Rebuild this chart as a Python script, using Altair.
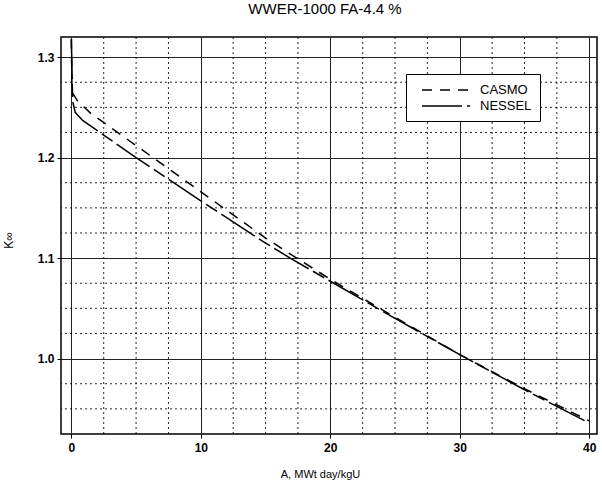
import altair as alt
import pandas as pd

# ---- data ----
casmo_x = [0, 0.05, 0.5, 1.5, 5, 10, 15, 17.4, 20, 25, 30, 35, 40]
casmo_y = [1.318, 1.265, 1.256, 1.244, 1.212, 1.166, 1.120, 1.100, 1.079, 1.041, 1.004, 0.970, 0.938]

nessel_x = [0, 0.1, 0.3, 0.87, 5, 10, 15, 16.9, 20, 25, 30, 35, 40]
nessel_y = [1.318, 1.256, 1.245, 1.237, 1.200, 1.157, 1.115, 1.100, 1.077, 1.040, 1.004, 0.969, 0.936]

series_names = ["CASMO", "NESSEL"]

x_major = [0, 10, 20, 30, 40]
x_minor = [2.5, 5, 7.5, 12.5, 15, 17.5, 22.5, 25, 27.5, 32.5, 35, 37.5]
y_major = [1.0, 1.1, 1.2, 1.3]
y_minor = [0.95, 0.975, 1.025, 1.05, 1.075, 1.125, 1.15, 1.175,
           1.225, 1.25, 1.275]

FONT = "Liberation Sans"

df = pd.concat([
    pd.DataFrame({"A": casmo_x, "K": casmo_y, "series": series_names[0]}),
    pd.DataFrame({"A": nessel_x, "K": nessel_y, "series": series_names[1]}),
])

xscale = alt.Scale(domain=[-0.8, 40.6], nice=False, zero=False)
yscale = alt.Scale(domain=[0.925, 1.32], nice=False, zero=False)

xaxis = alt.Axis(values=x_major, grid=True, gridColor="#222", gridWidth=1,
                 title="A, MWt day/kgU", titleFont=FONT, titleFontSize=11,
                 titleFontWeight="normal", titleColor="black",
                 titleX=259, titleY=43, titleAnchor="middle", titleBaseline="alphabetic",
                 labelFont=FONT, labelFontSize=12, labelFontWeight="bold",
                 labelColor="black", labelPadding=4,
                 ticks=True, tickSize=4, tickColor="black",
                 domain=False, format="d")
yaxis = alt.Axis(values=y_major, grid=True, gridColor="#222", gridWidth=1,
                 title="K∞", titleFont=FONT, titleFontSize=12,
                 titleFontWeight="normal", titleColor="black",
                 titleX=-46, titleY=203,
                 labelFont=FONT, labelFontSize=12, labelFontWeight="bold",
                 labelColor="black", labelPadding=3,
                 ticks=True, tickSize=4, tickColor="black",
                 domain=False, format=".1f")

vminor = alt.Chart(pd.DataFrame({"A": x_minor})).mark_rule(
    color="black", strokeWidth=1, strokeDash=[2, 3], opacity=0.85
).encode(x=alt.X("A:Q", scale=xscale, axis=xaxis))

hminor = alt.Chart(pd.DataFrame({"K": y_minor})).mark_rule(
    color="black", strokeWidth=1, strokeDash=[2, 3], opacity=0.85
).encode(y=alt.Y("K:Q", scale=yscale, axis=yaxis))

lines = alt.Chart(df).mark_line(color="black", strokeWidth=1.5, clip=True).encode(
    x=alt.X("A:Q", scale=xscale, axis=xaxis),
    y=alt.Y("K:Q", scale=yscale, axis=yaxis),
    strokeDash=alt.StrokeDash(
        "series:N",
        scale=alt.Scale(domain=series_names, range=[[10, 8], [40, 5, 13, 5]]),
        legend=alt.Legend(title=None, orient="none", legendX=345, legendY=37,
                          strokeColor="black", fillColor="white", padding=8,
                          symbolType="M0,0H6.86", symbolSize=196,
                          symbolFillColor="transparent",
                          symbolStrokeWidth=1.5, symbolStrokeColor="black",
                          labelFont=FONT, labelFontSize=13, labelColor="black",
                          labelOffset=50, rowPadding=1),
    ),
    detail="series:N",
)

chart = alt.layer(vminor, hminor, lines).properties(
    width=536, height=397,
    background="white",
    title=alt.Title("WWER-1000 FA-4.4 %", font=FONT, fontSize=15,
                    fontWeight="normal", color="black", offset=20, dx=-4,
                    frame="group", anchor="middle"),
    autosize=alt.AutoSizeParams(type="none"),
    padding={"left": 61, "top": 37, "right": 5, "bottom": 49},
).configure_view(stroke="black", strokeWidth=1.5)

chart.save("out.html", embed_options={"renderer": "svg", "actions": False})
